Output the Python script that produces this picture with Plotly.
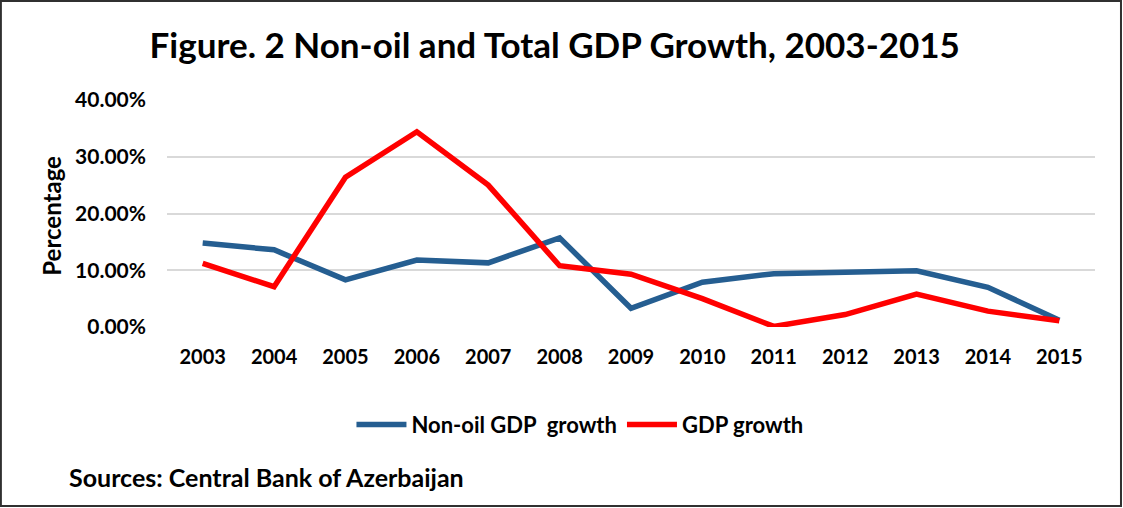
import plotly.graph_objects as go

years = ['2003', '2004', '2005', '2006', '2007', '2008', '2009',
         '2010', '2011', '2012', '2013', '2014', '2015']
non_oil_growth = [0.148, 0.136, 0.083, 0.118, 0.113, 0.157, 0.033,
                  0.079, 0.094, 0.096, 0.099, 0.070, 0.012]
gdp_growth = [0.112, 0.071, 0.264, 0.344, 0.250, 0.108, 0.093,
              0.050, 0.001, 0.022, 0.058, 0.028, 0.011]
y_ticks = [0, 0.1, 0.2, 0.3, 0.4]

FONT = "Lato"
BLUE = "#255E91"
RED = "#FF0000"

fig = go.Figure()
fig.add_trace(go.Scatter(
    x=years, y=non_oil_growth, mode='lines',
    name='Non-oil GDP\u00a0 growth',
    line=dict(color=BLUE, width=5.5)
))
fig.add_trace(go.Scatter(
    x=years, y=gdp_growth, mode='lines',
    name='GDP growth',
    line=dict(color=RED, width=5.5)
))

fig.update_layout(
    width=1123, height=508,
    margin=dict(l=167, r=28, t=100, b=181),
    paper_bgcolor='white',
    plot_bgcolor='white',
    font=dict(family=FONT, color='black'),
    title=dict(
        text='<b>Figure. 2 Non-oil and Total GDP Growth, 2003-2015</b>',
        x=0.494, xanchor='center', y=0.91, yanchor='middle',
        font=dict(size=35, family=FONT, color='black')
    ),
    legend=dict(
        orientation='h', x=0.445, xanchor='center',
        y=-0.43, yanchor='middle',
        font=dict(size=22, family=FONT, color='black', weight='bold'),
        itemwidth=50, bgcolor='rgba(0,0,0,0)'
    ),
    showlegend=True
)

fig.update_xaxes(
    type='category', range=[-0.5, 12.5],
    showgrid=False, showline=False, zeroline=False,
    ticks='', ticklabelstandoff=16,
    tickfont=dict(size=20, family=FONT, color='black', weight='bold')
)
fig.update_yaxes(
    range=[0, 0.4], tickvals=y_ticks, tickformat='.2%',
    showgrid=True, gridcolor='#D9D9D9', gridwidth=1.5,
    showline=False, zeroline=False,
    ticks='', ticklabelstandoff=20,
    tickfont=dict(size=21, family=FONT, color='black', weight='bold')
)

# y axis title and source note
fig.add_annotation(
    text='<b>Percentage</b>', textangle=-90,
    xref='paper', yref='paper', x=-0.124, y=0.49,
    xanchor='center', yanchor='middle', showarrow=False,
    font=dict(size=24, family=FONT, color='black')
)
fig.add_annotation(
    text='<b>Sources: Central Bank of Azerbaijan</b>',
    xref='paper', yref='paper', x=-0.108, y=-0.66,
    xanchor='left', yanchor='middle', showarrow=False,
    font=dict(size=25, family=FONT, color='black')
)

# chart frame
fig.add_shape(
    type='rect', xref='paper', yref='paper',
    x0=-0.179, x1=1.028, y0=-0.789, y1=1.436,
    line=dict(color='#303030', width=2), fillcolor='rgba(0,0,0,0)',
    layer='below'
)

fig.write_html("out.html", config={'displayModeBar': False},
               post_script="document.body.style.margin='0';")
